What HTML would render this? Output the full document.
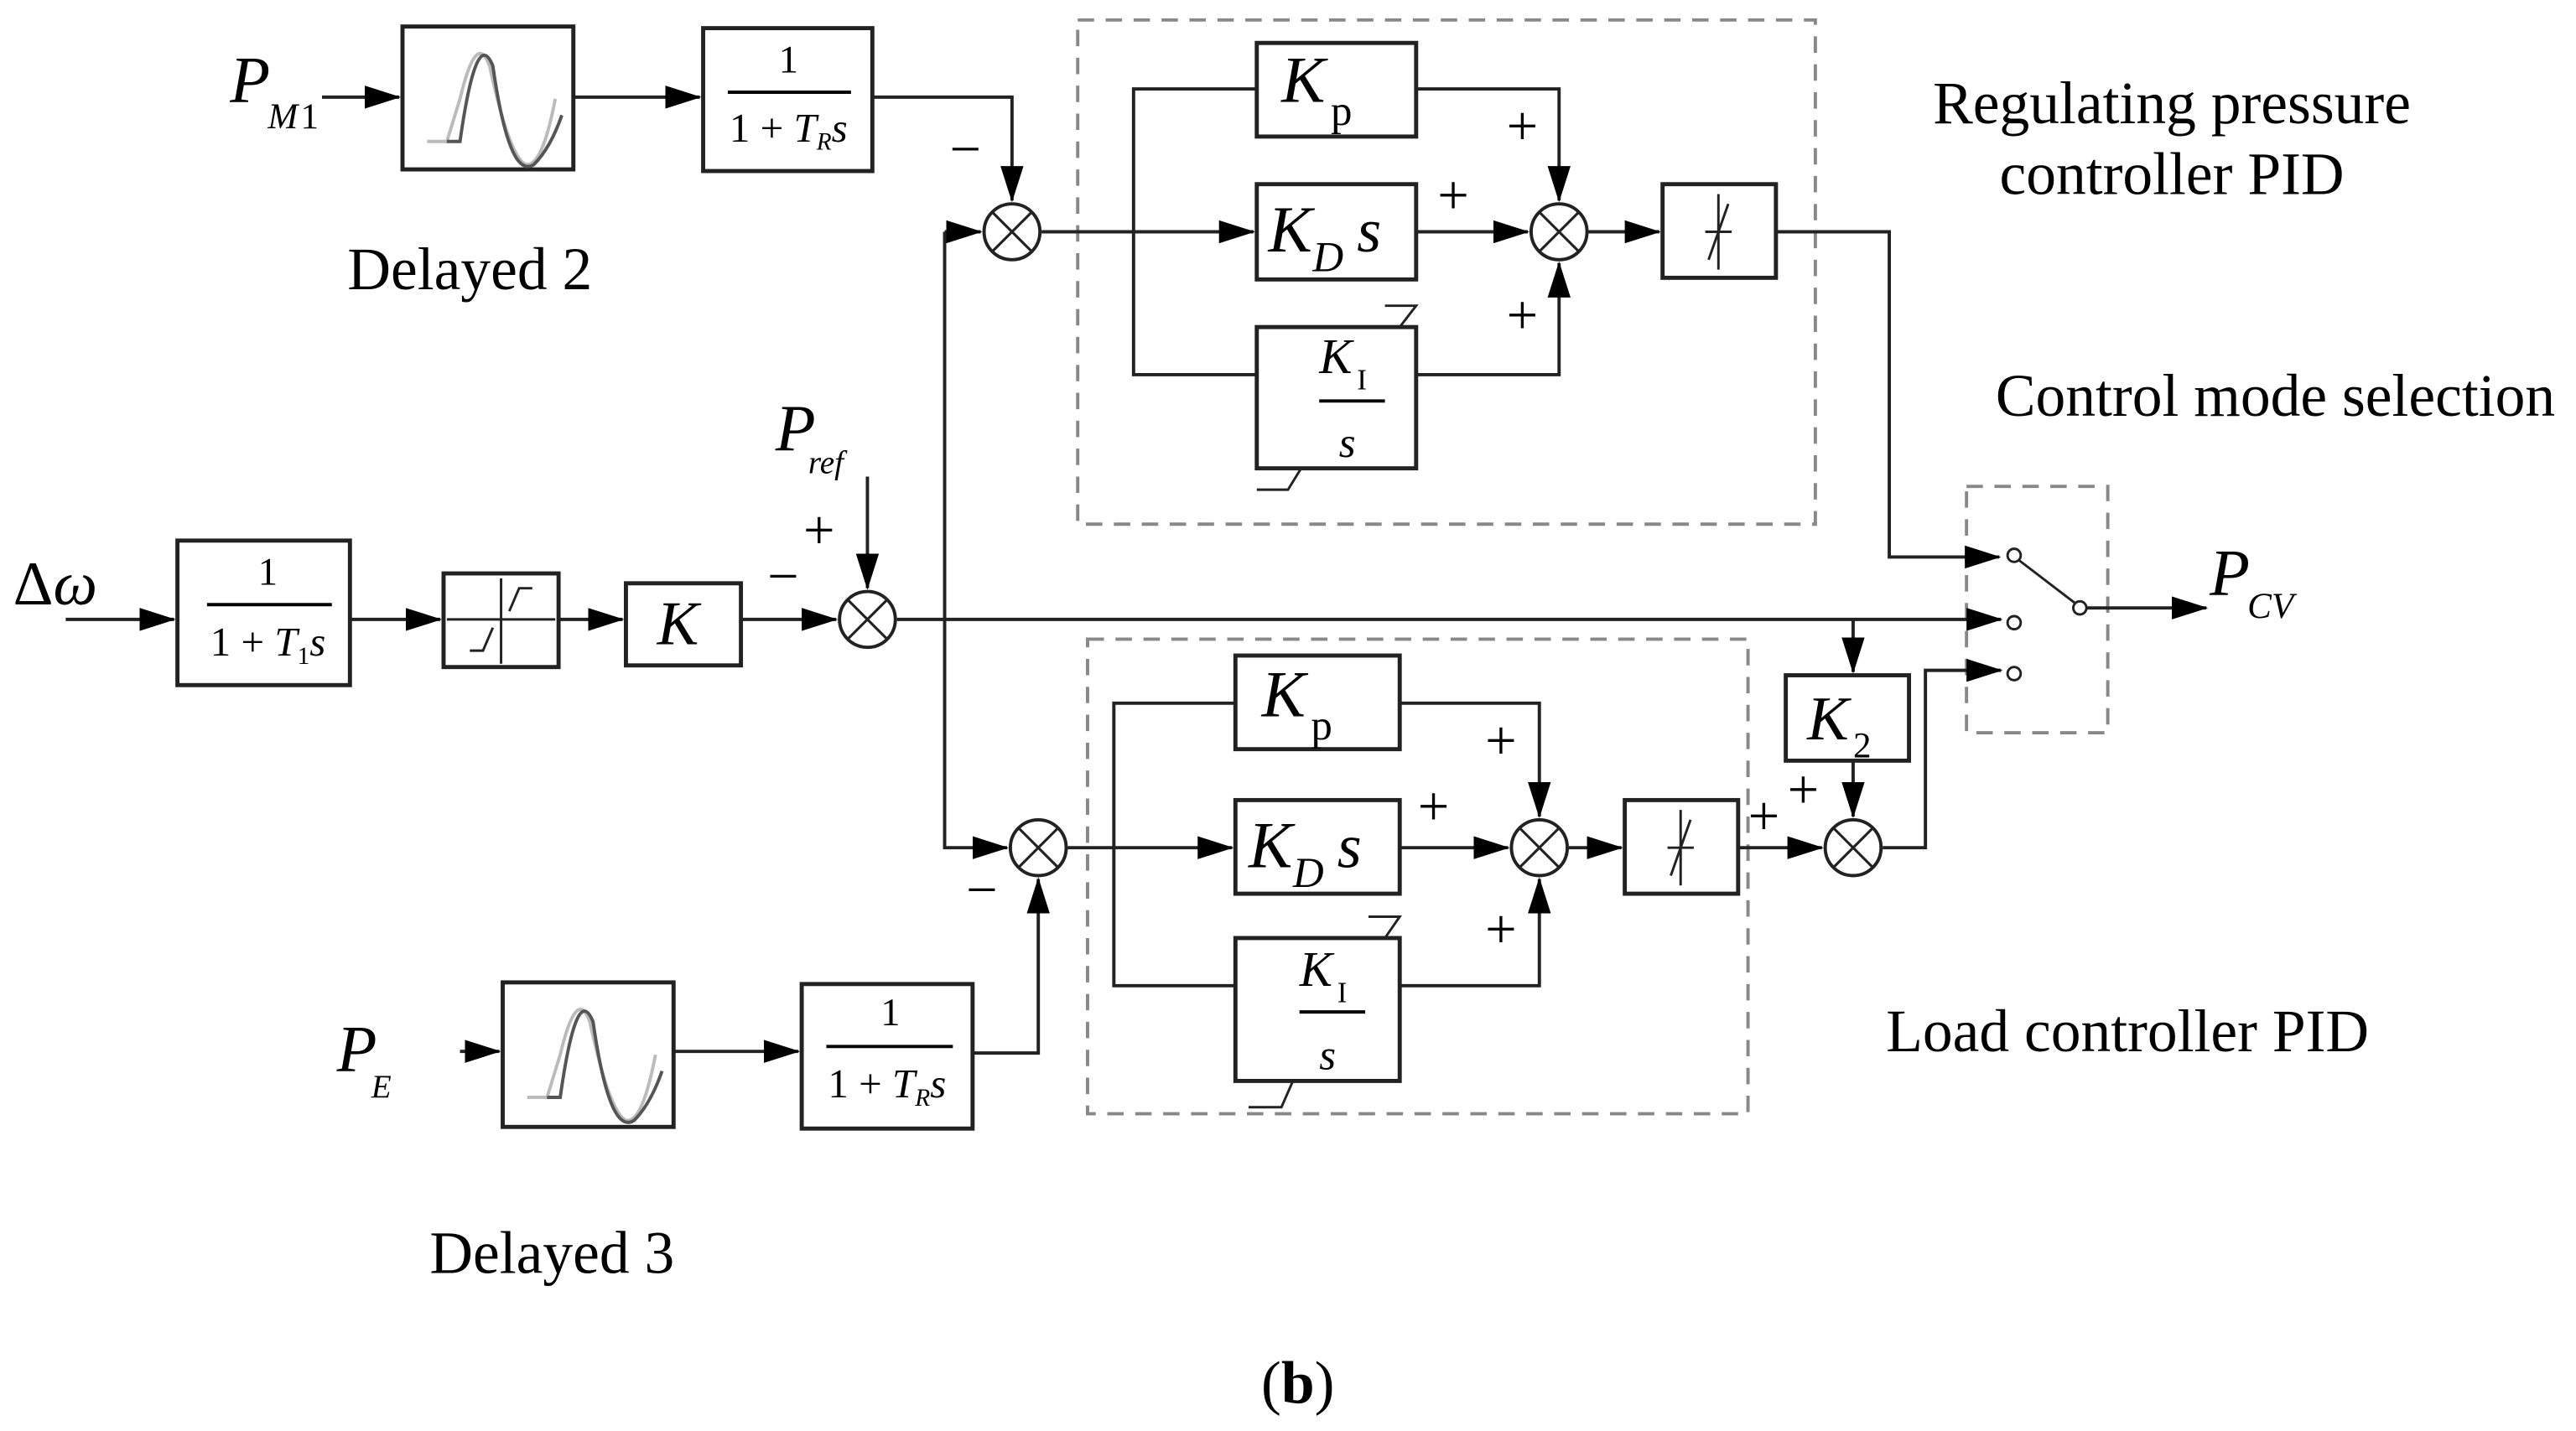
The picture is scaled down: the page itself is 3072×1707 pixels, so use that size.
<!DOCTYPE html>
<html><head><meta charset="utf-8"><style>html,body{margin:0;padding:0;background:#fff}svg{display:block}</style></head>
<body>
<svg width="3072" height="1707" viewBox="0 0 1568 871" xmlns="http://www.w3.org/2000/svg" font-family="Liberation Serif, serif">
<defs>
<marker id="b" markerWidth="22" markerHeight="14" refX="21" refY="7" orient="auto" markerUnits="userSpaceOnUse"><path d="M0,0 L22,7 L0,14 z" fill="#000"/></marker>
<g id="sum"><circle r="17" fill="#fff" stroke="#222" stroke-width="2"/><path d="M-12,-12 L12,12 M-12,12 L12,-12" stroke="#222" stroke-width="1.6"/></g>
<g id="sine"><path d="M10,66 L22,66 L30,40 Q40,-2 48,20 Q60,75 70,80 Q80,82 88,40" fill="none" stroke="#bbb" stroke-width="2"/><path d="M22,66 L30,66 Q40,-5 50,20 Q60,90 75,80 Q85,70 92,50" fill="none" stroke="#555" stroke-width="2"/></g>
</defs>
<g stroke="#222" stroke-width="2.5" fill="none">
<rect x="656" y="12" width="449" height="307" stroke="#888" stroke-width="2" stroke-dasharray="10,7"/>
<rect x="662" y="389" width="402" height="289" stroke="#888" stroke-width="2" stroke-dasharray="10,7"/>
<rect x="1197" y="296" width="86" height="150" stroke="#888" stroke-width="2" stroke-dasharray="10,7"/>
<rect x="245" y="16" width="104" height="87"/>
<rect x="428" y="17" width="103" height="87"/>
<rect x="765" y="26" width="97" height="57"/>
<rect x="765" y="112" width="97" height="58"/>
<rect x="765" y="199" width="97" height="86"/>
<rect x="1012" y="112" width="69" height="57"/>
<rect x="108" y="329" width="105" height="88"/>
<rect x="270" y="349" width="70" height="57"/>
<rect x="381" y="355" width="70" height="50"/>
<rect x="1087" y="411" width="75" height="52"/>
<rect x="752" y="399" width="100" height="57"/>
<rect x="752" y="487" width="100" height="57"/>
<rect x="752" y="571" width="100" height="87"/>
<rect x="989" y="487" width="69" height="57"/>
<rect x="306" y="598" width="104" height="88"/>
<rect x="488" y="599" width="104" height="88"/>
</g>
<use href="#sine" x="250" y="20"/>
<use href="#sine" x="311" y="602"/>
<g stroke="#222" stroke-width="2" fill="none">
<path d="M196,59 L243,59" marker-end="url(#b)"/>
<path d="M349,59 L426,59" marker-end="url(#b)"/>
<path d="M531,59 L616,59 L616,122" marker-end="url(#b)"/>
<path d="M575,141 L597,141" marker-end="url(#b)"/>
<path d="M575,141 L575,516 L613,516" marker-end="url(#b)"/>
<path d="M634,141 L763,141" marker-end="url(#b)"/>
<path d="M765,54 L690,54 L690,228 L765,228"/>
<path d="M862,54 L949,54 L949,122" marker-end="url(#b)"/>
<path d="M862,141 L930,141" marker-end="url(#b)"/>
<path d="M862,228 L949,228 L949,160" marker-end="url(#b)"/>
<path d="M967,141 L1010,141" marker-end="url(#b)"/>
<path d="M1081,141 L1150,141 L1150,339 L1217,339" marker-end="url(#b)"/>
<path d="M40,377 L106,377" marker-end="url(#b)"/>
<path d="M213,377 L268,377" marker-end="url(#b)"/>
<path d="M340,377 L379,377" marker-end="url(#b)"/>
<path d="M451,377 L509,377" marker-end="url(#b)"/>
<path d="M528,290 L528,358" marker-end="url(#b)"/>
<path d="M546,377 L1218,377" marker-end="url(#b)"/>
<path d="M1128,377 L1128,409" marker-end="url(#b)"/>
<path d="M1128,463 L1128,497" marker-end="url(#b)"/>
<path d="M280,640 L304,640" marker-end="url(#b)"/>
<path d="M410,640 L486,640" marker-end="url(#b)"/>
<path d="M592,641 L632,641 L632,535" marker-end="url(#b)"/>
<path d="M650,516 L750,516" marker-end="url(#b)"/>
<path d="M752,428 L678,428 L678,600 L752,600"/>
<path d="M852,428 L937,428 L937,497" marker-end="url(#b)"/>
<path d="M852,516 L918,516" marker-end="url(#b)"/>
<path d="M852,600 L937,600 L937,535" marker-end="url(#b)"/>
<path d="M955,516 L987,516" marker-end="url(#b)"/>
<path d="M1058,516 L1109,516" marker-end="url(#b)"/>
<path d="M1146,516 L1172,516 L1172,408 L1218,408" marker-end="url(#b)"/>
<path d="M1229,341 L1263,367" stroke-width="1.5"/>
<path d="M1270,370 L1343,370" marker-end="url(#b)"/>
<path d="M1046,118 L1046,164 M1038,141 L1054,141 M1040,158 L1052,124" stroke-width="1.5"/>
<path d="M1023,493 L1023,539 M1015,516 L1031,516 M1017,533 L1029,499" stroke-width="1.5"/>
<path d="M305,352 L305,404 M272,377 L338,377 M286,396 L294,396 L300,382 M310,372 L316,358 L324,358" stroke-width="1.5"/>
<path d="M843,186 L862,186 L852,199 M765,298 L784,298 L792,285" stroke-width="1.5"/>
<path d="M833,558 L852,558 L843,571 M760,674 L780,674 L787,658" stroke-width="1.5"/>
</g>
<g fill="#fff" stroke="#222" stroke-width="1.5">
<circle cx="1226" cy="338" r="4"/><circle cx="1226" cy="379" r="4"/><circle cx="1226" cy="410" r="4"/><circle cx="1266" cy="370" r="4"/>
</g>
<use href="#sum" x="616" y="141"/>
<use href="#sum" x="949" y="141"/>
<use href="#sum" x="528" y="377"/>
<use href="#sum" x="632" y="516"/>
<use href="#sum" x="937" y="516"/>
<use href="#sum" x="1128" y="516"/>
<g font-size="30" fill="#000">
<text x="480" y="44" font-size="24" text-anchor="middle">1</text><line x1="443" y1="56" x2="518" y2="56" stroke="#000" stroke-width="2"/>
<text x="444" y="86" font-size="25">1 + <tspan font-style="italic">T</tspan><tspan font-style="italic" font-size="15" dy="5">R</tspan><tspan font-style="italic" dy="-5">s</tspan></text>
<text x="542" y="624" font-size="24" text-anchor="middle">1</text><line x1="503" y1="637" x2="580" y2="637" stroke="#000" stroke-width="2"/>
<text x="504" y="668" font-size="25">1 + <tspan font-style="italic">T</tspan><tspan font-style="italic" font-size="15" dy="5">R</tspan><tspan font-style="italic" dy="-5">s</tspan></text>
<text x="163" y="356" font-size="24" text-anchor="middle">1</text><line x1="126" y1="368" x2="202" y2="368" stroke="#000" stroke-width="2"/>
<text x="128" y="399" font-size="25">1 + <tspan font-style="italic">T</tspan><tspan font-size="15" dy="5">1</tspan><tspan font-style="italic" dy="-5">s</tspan></text>
<text x="780" y="62" font-size="40" font-style="italic">K</text><text x="810" y="76" font-size="26">p</text>
<text x="772" y="153" font-size="40" font-style="italic">K</text><text x="799" y="165" font-size="26" font-style="italic">D</text><text x="826" y="153" font-size="38" font-style="italic">s</text>
<text x="803" y="227" font-size="30" font-style="italic">K</text><text x="826" y="237" font-size="18">I</text><line x1="803" y1="244" x2="843" y2="244" stroke="#000" stroke-width="2"/><text x="815" y="278" font-size="26" font-style="italic">s</text>
<text x="768" y="436" font-size="40" font-style="italic">K</text><text x="798" y="450" font-size="26">p</text>
<text x="760" y="528" font-size="40" font-style="italic">K</text><text x="787" y="540" font-size="26" font-style="italic">D</text><text x="814" y="528" font-size="38" font-style="italic">s</text>
<text x="791" y="600" font-size="30" font-style="italic">K</text><text x="814" y="610" font-size="18">I</text><line x1="791" y1="616" x2="831" y2="616" stroke="#000" stroke-width="2"/><text x="803" y="651" font-size="26" font-style="italic">s</text>
<text x="400" y="392" font-size="38" font-style="italic">K</text>
<text x="1100" y="450" font-size="38" font-style="italic">K</text><text x="1128" y="461" font-size="22">2</text>
<text x="140" y="62" font-size="40" font-style="italic">P</text><text x="163" y="78" font-size="22" font-style="italic">M</text><text x="183" y="78" font-size="22">1</text>
<text x="8" y="368" font-size="38"><tspan>Δ</tspan><tspan font-style="italic">ω</tspan></text>
<text x="472" y="274" font-size="40" font-style="italic">P</text><text x="492" y="288" font-size="20" font-style="italic">ref</text>
<text x="205" y="652" font-size="40" font-style="italic">P</text><text x="226" y="668" font-size="20" font-style="italic">E</text>
<text x="1345" y="362" font-size="40" font-style="italic">P</text><text x="1368" y="376" font-size="22" font-style="italic">CV</text>
<g font-size="34">
<text x="578" y="102">−</text><text x="917" y="88">+</text><text x="875" y="130">+</text><text x="917" y="203">+</text>
<text x="489" y="334">+</text><text x="467" y="362">−</text>
<text x="588" y="553">−</text><text x="904" y="462">+</text><text x="863" y="502">+</text><text x="904" y="577">+</text>
<text x="1088" y="492">+</text><text x="1064" y="508">+</text>
</g>
<g font-size="36.5" text-anchor="middle">
<text x="1322" y="75">Regulating pressure</text>
<text x="1322" y="118">controller PID</text>
<text x="1385" y="253">Control mode selection</text>
<text x="286" y="176">Delayed 2</text>
<text x="336" y="775">Delayed 3</text>
<text x="1295" y="640">Load controller PID</text>
<text x="790" y="854">(<tspan font-weight="bold">b</tspan>)</text>
</g>
</g>
</svg>
</body></html>
